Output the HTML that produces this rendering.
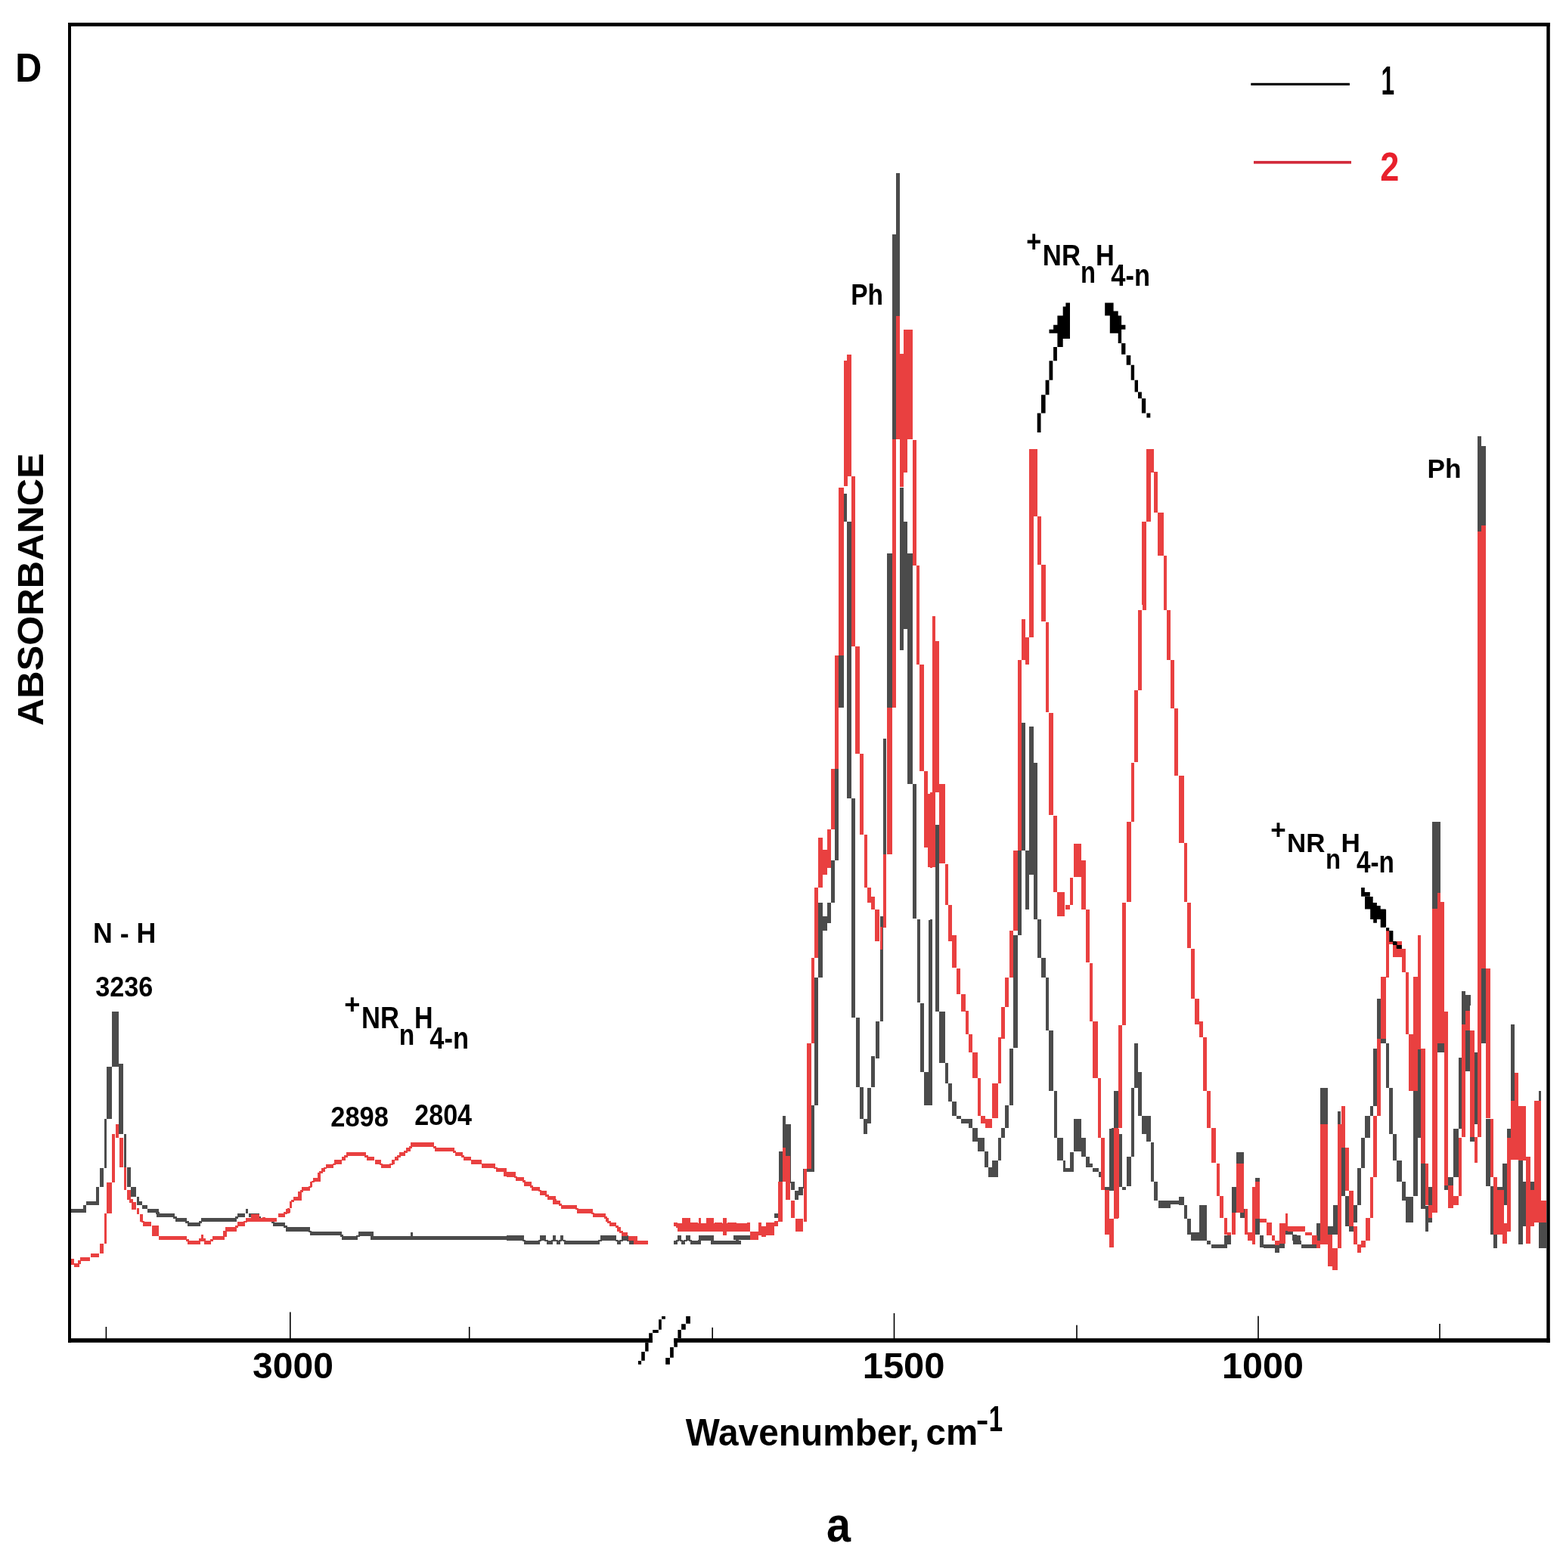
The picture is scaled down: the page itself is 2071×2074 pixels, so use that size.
<!DOCTYPE html>
<html><head><meta charset="utf-8"><title>IR spectrum</title><style>html,body{margin:0;padding:0;background:#fff;overflow:hidden;}svg{display:block;}</style></head><body>
<svg width="2071" height="2074" viewBox="0 0 2071 2074">
<rect width="2071" height="2074" fill="#fff"/>
<path fill="#4b4b4b" shape-rendering="crispEdges" d="M90 1599H110V1604H90zM110 1594H114V1604H110zM114 1589H127V1594H114zM127 1570H131V1594H127zM132 1545H137V1570H132zM137.6 1480H141V1545H137.6zM141 1411H148V1480H141zM148.4 1338H156.7V1411H148.4zM157.3 1406.6H163V1500H157.3zM163.5 1500H167V1544H163.5zM167.6 1544H173V1570H167.6zM173.4 1570H180V1583H173.4zM180.5 1583H184V1594H180.5zM184 1589H188V1594H184zM188 1594H195V1599H188zM195 1599H210V1604H195zM207 1605H231V1610H207zM232 1611H247V1616H232zM248 1617H264.5V1622H248zM265.6 1611H312.6V1616H265.6zM313.6 1605H324V1610H313.6zM325 1599H328V1605H325zM329 1605H342.6V1610H329zM343.6 1611H361V1616H343.6zM361 1617H376.8V1622H361zM377.8 1623H409.5V1629H377.8zM410 1629.2H451.5V1634.3H410zM452 1635H473V1640H452zM474 1629.4H494V1634.6H474zM490 1635H680V1640H490zM543 1630H545.5V1635H543zM670 1634.3H692.5V1640.5H670zM693.3 1640.7H713.5V1645.8H693.3zM714.3 1634.3H722.1V1640.5H714.3zM722.9 1640.7H730.6V1645.8H722.9zM731.4 1634.3H735.3V1640.5H731.4zM736 1640.7H740.8V1645.8H736zM740.8 1634.3H745.4V1640.5H740.8zM746 1640.7H792.9V1645.8H746zM793.6 1634.3H815.4V1640.5H793.6zM816 1640.7H821V1645.8H816zM821.6 1634.3H831V1640.5H821.6zM831.7 1640.7H857V1645.8H831.7zM890.8 1640.7H895.5V1645.8H890.8zM896 1634.3H900.5V1640.5H896zM901 1640.7H906V1645.8H901zM907 1634.3H912.6V1640.5H907zM913.4 1640.7H926.6V1645.8H913.4zM923.5 1634.3H943.7V1640.5H923.5zM940 1640.7H970V1645.8H940zM960 1640.8H980V1645.9H960zM970 1634H992V1640H970zM1023.8 1605H1029V1610.7H1023.8zM1030 1523H1034.6V1610.7H1030zM1035 1476H1038.5V1523H1035zM1038.5 1487H1045.5V1565H1038.5zM1046 1563H1051V1574H1046zM1051.4 1575H1055.6V1587.4H1051.4zM1056 1570H1062V1581H1056zM1062 1546H1067V1572H1062zM1067.3 1545H1072.8V1550H1067.3zM1073 1462H1077V1550H1073zM1077 1293H1082V1462H1077zM1082 1193.6H1087.7V1293H1082zM1087.7 1212H1093.5V1231H1087.7zM1093.5 1193.6H1098.7V1220.5H1093.5zM1099 1137.7H1103.9V1193.6H1099zM1104.3 935H1109.3V1137.7H1104.3zM1109.3 867H1115.5V936.4H1109.3zM1115.5 652.8H1119.7V690H1115.5zM1119.7 690H1126V1056H1119.7zM1126.2 1056H1131.4V1345.7H1126.2zM1131.8 1345.7H1137V1438H1131.8zM1137 1438H1142V1480H1137zM1142 1480H1146.6V1499.5H1142zM1146.6 1439H1152V1486H1146.6zM1152 1397H1157V1438H1152zM1157.7 1351H1162.9V1400H1157.7zM1163.5 1212H1167.6V1351H1163.5zM1168 977H1172.4V1212H1168zM1172.5 731.5H1179.7V977H1172.5zM1180.2 309.7H1185.2V731.5H1180.2zM1185.3 229H1190V581H1185.3zM1190 644.5H1194.8V859.8H1190zM1194.8 690H1199.8V831.9H1194.8zM1199.8 731.5H1206.6V1037H1199.8zM1207 1037H1212V1215H1207zM1212.6 1216H1216.7V1326H1212.6zM1216.7 1327H1222V1418H1216.7zM1222 1418H1233V1462H1222zM1227.5 1216.5H1233V1462H1227.5zM1236.5 1091H1242V1338H1236.5zM206.3 1603H210.7V1606H206.3zM229.3 1609H233.7V1612H229.3zM245.3 1615H249.7V1618H245.3zM262.9 1615H267.2V1618H262.9zM310.9 1609H315.3V1612H310.9zM340.9 1609H345.3V1612H340.9zM358.8 1615H363.2V1618H358.8zM375.1 1621H379.5V1624H375.1zM407.6 1628H411.9V1630.2H407.6zM449.6 1633.3H453.9V1636H449.6zM471.3 1633.6H475.7V1636H471.3zM489.8 1633.6H494.2V1636H489.8zM690.7 1639.5H695.1V1641.7H690.7zM711.7 1639.5H716.1V1641.7H711.7zM720.3 1639.5H724.7V1641.7H720.3zM728.8 1639.5H733.2V1641.7H728.8zM733.4 1639.5H737.9V1641.7H733.4zM738.6 1639.5H743V1641.7H738.6zM743.5 1639.5H747.9V1641.7H743.5zM791 1639.5H795.5V1641.7H791zM813.5 1639.5H817.9V1641.7H813.5zM819.1 1639.5H823.5V1641.7H819.1zM829.1 1639.5H833.6V1641.7H829.1zM893.5 1639.5H898V1641.7H893.5zM898.5 1639.5H903V1641.7H898.5zM904.3 1639.5H908.7V1641.7H904.3zM910.8 1639.5H915.2V1641.7H910.8zM922.8 1639.5H927.2V1641.7H922.8zM939.6 1639.5H944.1V1641.7H939.6zM972.8 1639H977.2V1641.8H972.8zM1351.1 955.8H1355.7V980H1351.1zM1361.1 961H1366.6V980H1361.1zM1237.2 1090.8H1241.8V1337.1H1237.2zM1230 1216H1233.1V1380H1230zM1241.8 1338.2H1249.7V1380H1241.8zM1351.1 980H1355.7V1124.9H1351.1zM1345.9 1124.9H1351.1V1236.7H1345.9zM1340.4 1236.7H1345.9V1380H1340.4zM1361.1 980H1366.6V1009H1361.1zM1361.1 1009H1371.8V1157H1361.1zM1356.3 1124.9H1361.1V1202.6H1356.3zM1366.6 1157H1371.8V1216H1366.6zM1371.8 1216H1377V1266.7H1371.8zM1377.4 1266.7H1383.2V1292.6H1377.4zM1383.2 1292.6H1386.9V1363H1383.2zM1387.3 1363H1392.5V1380H1387.3zM1230 1330H1233.1V1461.5H1230zM1237.2 1330H1241.8V1338.3H1237.2zM1241.8 1338.3H1249.7V1405.6H1241.8zM1249.7 1405.6H1253.8V1432.5H1249.7zM1254.4 1432.5H1259V1456.7H1254.4zM1259 1456.7H1264.8V1476H1259zM1264.8 1476H1271V1480.1H1264.8zM1271 1480.1H1285.5V1486.3H1271zM1280.7 1480.1H1285.9V1491.5H1280.7zM1286.3 1491.5H1293.1V1510.1H1286.3zM1293.1 1504.9H1302V1522.5H1293.1zM1302 1522.5H1306.6V1544.3H1302zM1307 1544.3H1320.1V1556.7H1307zM1312.4 1535H1320.1V1556.7H1312.4zM1320.1 1504.9H1324.2V1535H1320.1zM1324.2 1491.5H1329V1504.9H1324.2zM1329 1461.5H1334.1V1491.5H1329zM1334.6 1386.9H1339.7V1461.5H1334.6zM1340.4 1330H1345.9V1385.9H1340.4zM1383.2 1330H1387.3V1362.1H1383.2zM1387.3 1363.1H1393.1V1442.8H1387.3zM1393.6 1442.8H1398.1V1504.9H1393.6zM1398.1 1504.9H1406V1535H1398.1zM1406 1535H1409.1V1549.5H1406zM1409.1 1545.3H1419.4V1549.5H1409.1zM1414.9 1523.6H1420.1V1549.5H1414.9zM1420.1 1480.1H1429.8V1522.5H1420.1zM1429.8 1504.9H1436V1529.8H1429.8zM1436 1529.8H1441.2V1544.3H1436zM1441.2 1539.1H1445.3V1544.3H1441.2zM1445.3 1545.3H1452.6V1549.5H1445.3zM1452.6 1549.5H1456.1V1556.7H1452.6zM1456.1 1556.7H1460.8V1572.2H1456.1zM1460.8 1570.2H1473.3V1574.7H1460.8zM1467.1 1492.5H1473.3V1574.7H1467.1zM1473.3 1442.8H1480.1V1491.5H1473.3zM1473.1 1442.8H1479.3V1491.5H1473.1zM1470 1491.5H1473.1V1574.3H1470zM1479.3 1499.8H1483.5V1570.2H1479.3zM1483.5 1570.2H1489V1574.3H1483.5zM1489.7 1529.8H1495.9V1569.1H1489.7zM1496.3 1438.7H1500V1529.8H1496.3zM1500.2 1379.7H1504.8V1438.7H1500.2zM1504.8 1418H1509.8V1476H1504.8zM1510.4 1476H1521.8V1499.8H1510.4zM1516 1499.8H1521.8V1510.1H1516zM1522.2 1511.2H1525.9V1562.9H1522.2zM1526.3 1562.9H1531.1V1587.8H1526.3zM1531.5 1587.8H1547.6V1598.1H1531.5zM1548.3 1587.8H1565.7V1592.9H1548.3zM1559 1582.6H1565.7V1594H1559zM1565.7 1594H1570.4V1611.6H1565.7zM1570.4 1611.6H1574.6V1633.3H1570.4zM1575.2 1630.2H1585.9V1640.6H1575.2zM1585.9 1594H1595.9V1640.6H1585.9zM1596.3 1640.6H1600.8V1645.7H1596.3zM1601.5 1645.7H1623.2V1650.5H1601.5zM1618.7 1634.3H1628.4V1645.7H1618.7zM1629.4 1570.2H1634.6V1604.3H1629.4zM1634.6 1523.6H1644.9V1539.1H1634.6zM1639.8 1599.2H1645.6V1610.5H1639.8zM1650.1 1630.2H1656.3V1634.3H1650.1zM1656.3 1570.2H1660.1V1587.8H1656.3zM1660.1 1557.7H1665.7V1562.9H1660.1zM1660.1 1611.6H1665.7V1633.3H1660.1zM1666.3 1634.3H1670.8V1649.9H1666.3zM1670.8 1645.7H1686.4V1650.5H1670.8zM1686.4 1645.7H1691.5V1657.1H1686.4zM1691.5 1640.6H1698.8V1650.5H1691.5zM1699.8 1628.1H1710.2V1633.3H1699.8zM1710.2 1634.3H1720.1V1645.7H1710.2zM1700 1628.1H1709.3V1633.3H1700zM1709.3 1633.3H1714.5V1640.6H1709.3zM1714.5 1640.6H1720.7V1645.7H1714.5zM1720.7 1645.7H1741.4V1650.5H1720.7zM1741.4 1617.8H1746V1645.7H1741.4zM1746 1438.7H1755.5V1491.5H1746zM1755.5 1621.9H1764.2V1633.3H1755.5zM1763.1 1594H1768.7V1633.3H1763.1zM1768.7 1469.8H1772.9V1487.3H1768.7zM1773.5 1518.4H1778.7V1581.6H1773.5zM1778.7 1581.6H1783.9V1621.9H1778.7zM1783.9 1621.9H1790.1V1629.2H1783.9zM1790.1 1594H1795.2V1616.7H1790.1zM1795.2 1545.3H1800.4V1594H1795.2zM1800.4 1504.9H1805.2V1545.3H1800.4zM1805.2 1476H1811.8V1504.9H1805.2zM1811.8 1462.5H1815.9V1476H1811.8zM1815.9 1386.9H1821.1V1462.5H1815.9zM1821.1 1330H1825.7V1373.5H1821.1zM1825.7 1372.4H1830V1379.7H1825.7zM1894.2 1087.3H1905V1202.3H1894.2zM1905 1194H1910.1V1219.9H1905zM1821.1 1321.3H1826.3V1330H1821.1zM1932.9 1311H1938.1V1330H1932.9zM1938.1 1316.1H1945.3V1330H1938.1zM1954.2 576.6H1959.4V702.9H1954.2zM1959.4 590H1965V695.6H1959.4zM1894.2 1087.3H1904.5V1202.2H1894.2zM1904.5 1194H1909.7V1220.9H1904.5zM1933.1 1310.9H1937.7V1360H1933.1zM1937.7 1316.1H1944.3V1338.9H1937.7zM1958.8 1280.9H1965V1360H1958.8zM1998.1 1355.4H2002.9V1360H1998.1zM1830 1373.5H1833.1V1379.7H1830zM1833.1 1379.7H1837.2V1438.7H1833.1zM1837.2 1438.7H1842V1499.8H1837.2zM1842 1499.8H1847V1535H1842zM1847 1535H1853.8V1562.9H1847zM1853.8 1562.9H1859V1587.8H1853.8zM1859 1582.6H1868.9V1616.7H1859zM1868.9 1442.8H1874.5V1581.6H1868.9zM1874.5 1386.9H1879.3V1504.9H1874.5zM1879.3 1539.1H1884.9V1599.2H1879.3zM1884.9 1595H1889V1629.2H1884.9zM1889 1570.2H1894.2V1616.7H1889zM1901.4 1379.7H1909.7V1392.1H1901.4zM1909.7 1556.7H1922.1V1574.3H1909.7zM1922.1 1492.5H1929V1556.7H1922.1zM1929 1399.4H1933.1V1492.5H1929zM1933.1 1330H1944.3V1338.3H1933.1zM1933.1 1338.3H1937.7V1355.9H1933.1zM1937.7 1363.1H1944.3V1417H1937.7zM1944.3 1487.3H1949.7V1510.1H1944.3zM1949.7 1392.1H1954.2V1487.3H1949.7zM1958.8 1330H1965V1379.7H1958.8zM1965 1480.1H1970.8V1569.1H1965zM1970.8 1569.1H1974.9V1633.3H1970.8zM1974.9 1633.3H1979.5V1650.5H1974.9zM1979.5 1570.2H1989.4V1574.3H1979.5zM1987.3 1539.1H1992.5V1594H1987.3zM1992.5 1492.5H1997.7V1504.9H1992.5zM1997.7 1355.9H2002.9V1456.3H1997.7zM2008.1 1535H2014.3V1645.7H2008.1zM2014.3 1562.9H2018.4V1621.9H2014.3zM2023.6 1562.9H2028.8V1574.3H2023.6zM2028.8 1457.3H2035V1468.7H2028.8zM2035 1442.8H2038.1V1457.3H2035zM2035 1616.7H2045.3V1650.5H2035z"/>
<path fill="#e94040" shape-rendering="crispEdges" d="M90 1665H98V1673H90zM98 1671H104.5V1676H98zM105.5 1663H119V1668H105.5zM120 1658H131.4V1663H120zM132.4 1645H136.6V1658H132.4zM137.6 1605H140.7V1645H137.6zM141.3 1564H147.6V1605H141.3zM148.4 1500H152.1V1564H148.4zM153 1487H157.3V1505H153zM157.7 1505H163V1544H157.7zM163.5 1544H167V1574H163.5zM167.6 1574H172.8V1587H167.6zM173.8 1590H180V1600H173.8zM181 1598H184V1606H181zM184.8 1606H189V1616H184.8zM189.4 1616.4H199.7V1621.6H189.4zM200.8 1621H209.7V1635H200.8zM210 1635H247.4V1640H210zM248.4 1641.2H265V1646.3H248.4zM265.6 1633.4H269V1638.6H265.6zM270 1641.2H279.4V1646.3H270zM280.5 1635H297V1640H280.5zM298 1623.4H312.6V1628.6H298zM313.6 1616.4H324V1621.6H313.6zM325 1611.2H365.5V1616.3H325zM332 1606H342.6V1611H332zM367.5 1605.2H376.8V1610.3H367.5zM377.8 1598.7H384V1603.8H377.8zM380 1598H383V1605H380zM383 1589H386V1598H383zM387.8 1582.7H399V1587.8H387.8zM394 1575.7H399V1583H394zM399.4 1570.2H409.5V1575.3H399.4zM410 1563H413.4V1569.5H410zM414 1557.7H424.3V1562.8H414zM420.4 1551H424.3V1558H420.4zM425 1545.1H429.8V1550.3H425zM430.5 1539.7H441.4V1544.9H430.5zM442.2 1534.3H451.5V1539.5H442.2zM452.3 1530H457V1535.1H452.3zM457.8 1523.6H484.2V1529H457.8zM485 1529.7H495V1534.8H485zM495.9 1534.3H503.6V1539.5H495.9zM504.4 1539.6H516.9V1544.8H504.4zM517.6 1534.3H521.5V1539.5H517.6zM522.3 1530H527V1535.1H522.3zM527.7 1523.6H536.3V1529H527.7zM537 1518.1H542.5V1523.3H537zM543.3 1511.2H574.4V1517.4H543.3zM575.2 1518.1H600.8V1523.3H575.2zM601.6 1523.6H611.7V1529H601.6zM612.5 1529.7H622.6V1534.8H612.5zM623.4 1534.3H636.6V1539.5H623.4zM637.4 1539H655.3V1544.6H637.4zM656 1544.8H670V1549.9H656zM666 1550H680V1556H666zM670 1550.3H681.7V1556.5H670zM682.4 1557.1H692.5V1562.2H682.4zM693.3 1563.2H702.7V1569.4H693.3zM703.4 1569.9H713.5V1575H703.4zM714.3 1575.2H722.9V1581.4H714.3zM723.7 1582H735.3V1587.2H723.7zM731.4 1587.6H740.8V1593H731.4zM741.5 1594H762.5V1599.1H741.5zM763.3 1599.3H783.5V1604.7H763.3zM784.3 1605.2H800.6V1610.4H784.3zM801.4 1611H805.3V1616.4H801.4zM806 1617H815.4V1622.2H806zM816.2 1622.6H820.9V1628.8H816.2zM821.6 1630.1H830.2V1635.3H821.6zM831 1635H843.4V1640.5H831zM838 1640.7H857.4V1645.8H838zM890.8 1617H895.5V1622H890.8zM896.3 1622.6H901V1629H896.3zM901.7 1611H912.6V1621H901.7zM913.4 1617H922.7V1629H913.4zM923.5 1611H926.6V1629H923.5zM927.4 1622H933.6V1629H927.4zM934.4 1611H943.7V1629H934.4zM944.5 1617H955V1629H944.5zM955.5 1611H961V1633.5H955.5zM961.6 1617H974V1629H961.6zM974 1622H988V1628.6H974zM988 1617H992V1628.6H988zM992 1628.6H1002.8V1640H992zM1002.8 1617H1006.7V1634H1002.8zM1006.7 1622H1012.9V1636H1006.7zM1012.9 1617H1023.8V1634H1012.9zM896 1618H990V1629H896zM1023.8 1614.6H1029V1621.6H1023.8zM1029 1563.3H1034.6V1616H1029zM1035 1518H1039.3V1563H1035zM1039.3 1529H1045.2V1587.4H1039.3zM1046.3 1588H1051V1610.7H1046.3zM1051.8 1611.5H1061.9V1629.4H1051.8zM1062.6 1546H1066.5V1616H1062.6zM1067.3 1380H1072.8V1546H1067.3zM1073.4 1267H1077V1380H1073.4zM1077.4 1174H1082V1267H1077.4zM1082 1107.7H1087.7V1174H1082zM1087.7 1124H1093.5V1157H1087.7zM1094 1097H1098.7V1148H1094zM1099 1016.6H1103.9V1097H1099zM1104.1 867H1109.3V1016.6H1104.1zM1109.3 644.5H1115.5V867H1109.3zM1116 476.6H1120.6V643H1116zM1120.3 469.4H1126V630H1120.3zM1126 630H1131V854.7H1126zM1131 854.7H1136.9V996.5H1131zM1137 996.5H1142.2V1103.5H1137zM1142.6 1103.5H1146.7V1174H1142.6zM1147.3 1174H1152V1193.6H1147.3zM1152 1186H1156.7V1203H1152zM1157.3 1203H1162.9V1245H1157.3zM1163.5 1225.7H1167V1255.7H1163.5zM1168 1130.4H1172.2V1226.7H1168zM1172.5 936.4H1179.7V1130.4H1172.5zM1180.4 581H1185V936.4H1180.4zM1185 417.6H1190V581H1185zM1190 468H1195.3V644H1190zM1195.3 436H1206.7V581H1195.3zM1190 581H1200V624.6H1190zM1207 582H1212V748H1207zM1212 748H1216V878.5H1212zM1216 878.5H1221.7V1020H1216zM1222.3 1019.7H1227V1121H1222.3zM1227 1050H1232.7V1147H1227zM1233 815H1237V1147H1233zM1237 848.4H1242.4V1037.6H1237zM102.8 1667H107.2V1672H102.8zM171.1 1586H175.5V1591H171.1zM187 1615H191.4V1617.4H187zM245.7 1639H250.1V1642.2H245.7zM263.1 1637.6H267.5V1642.2H263.1zM267.3 1637.6H271.7V1642.2H267.3zM277.8 1639H282.1V1642.2H277.8zM295.3 1627.6H299.7V1636H295.3zM310.9 1620.6H315.3V1624.4H310.9zM322.3 1615.3H326.7V1617.4H322.3zM346.6 1610H350.9V1612.2H346.6zM375.1 1602.8H379.5V1606.2H375.1zM384.7 1586.8H389.1V1590H384.7zM397 1574.3H401.4V1576.7H397zM407.6 1568.5H411.9V1571.2H407.6zM411.5 1561.8H415.9V1564H411.5zM422.4 1549.3H426.8V1552H422.4zM427.9 1543.9H432.3V1546.1H427.9zM439.6 1538.5H444V1540.7H439.6zM455.2 1528H459.6V1531H455.2zM482.4 1528H486.8V1530.7H482.4zM501.8 1538.5H506.2V1540.6H501.8zM515 1538.5H519.5V1540.6H515zM525.1 1528H529.6V1531H525.1zM534.4 1522.3H538.9V1524.6H534.4zM540.7 1516.4H545.1V1519.1H540.7zM572.6 1516.4H577V1519.1H572.6zM599 1522.3H603.4V1524.6H599zM609.9 1528H614.3V1530.7H609.9zM653.4 1543.6H657.9V1545.8H653.4zM665.8 1548.9H670.2V1551H665.8zM679.8 1555.5H684.2V1558.1H679.8zM690.7 1561.2H695.1V1564.2H690.7zM700.8 1568.4H705.2V1570.9H700.8zM711.7 1574H716.1V1576.2H711.7zM721.1 1580.4H725.5V1583H721.1zM731.1 1586.2H735.5V1588.6H731.1zM738.9 1592H743.4V1595H738.9zM760.7 1598.1H765.1V1600.3H760.7zM781.7 1603.7H786.1V1606.2H781.7zM798.8 1609.4H803.2V1612H798.8zM803.4 1615.4H807.9V1618H803.4zM813.6 1621.2H818V1623.6H813.6zM819 1627.8H823.5V1631.1H819zM838.5 1639.5H842.9V1641.7H838.5zM893.7 1621H898.1V1623.6H893.7zM899.1 1620H903.6V1623.6H899.1zM1233.1 816H1237.2V849.2H1233.1zM1234.1 849.2H1241.8V980H1234.1zM1361.1 594.1H1371.8V682.5H1361.1zM1361.1 682.5H1366.6V842.5H1361.1zM1372.2 683.1H1377V747.3H1372.2zM1377.4 748.1H1382.8V822.2H1377.4zM1383.2 823.3H1386.7V942.3H1383.2zM1387.3 942.7H1392.5V980H1387.3zM1351.1 819.1H1355.7V873H1351.1zM1355.7 842.9H1360.8V878.6H1355.7zM1346.4 873H1350.7V980H1346.4zM1233.1 980H1241.8V1048.3H1233.1zM1230 1048.3H1233.1V1147.7H1230zM1241.8 1036.9H1250.1V1141.5H1241.8zM1250.1 1142.5H1253.8V1197.4H1250.1zM1254.4 1197.4H1259V1245H1254.4zM1259 1236.7H1264.8V1280.2H1259zM1265.2 1281.2H1270.4V1315.4H1265.2zM1271 1315.4H1276.6V1338.2H1271zM1277.2 1338.2H1280.7V1368.2H1277.2zM1281.3 1368.2H1285.9V1380H1281.3zM1345.9 980H1351.1V1124.9H1345.9zM1340.4 1124.9H1345.9V1230.5H1340.4zM1334.6 1230.5H1340.4V1292.6H1334.6zM1329 1292.6H1334.1V1332H1329zM1324.2 1332H1329V1372.3H1324.2zM1320.1 1372.3H1324.2V1380H1320.1zM1387.3 980H1392.5V1078.3H1387.3zM1393.1 1079.4H1397.7V1179.8H1393.1zM1398.1 1179.8H1408.1V1211.9H1398.1zM1408.5 1197.4H1414.7V1202.6H1408.5zM1414.9 1161.2H1419.4V1197.4H1414.9zM1420.1 1115.6H1429.8V1160.1H1420.1zM1429.8 1138.4H1436V1202.6H1429.8zM1436 1202.6H1441.2V1273H1436zM1441.2 1274H1445.3V1350.6H1441.2zM1445.3 1350.6H1451.9V1380H1445.3zM1271.4 1330H1276.6V1337.2H1271.4zM1277.2 1337.2H1280.7V1368.3H1277.2zM1281.3 1368.3H1285.9V1392.1H1281.3zM1286.3 1392.1H1293.1V1426.3H1286.3zM1293.1 1426.3H1297.3V1476H1293.1zM1297.3 1476H1302.5V1486.3H1297.3zM1302.5 1480.1H1311.8V1491.5H1302.5zM1312.4 1433.1H1320.1V1479.1H1312.4zM1320.1 1373.5H1324.2V1432.5H1320.1zM1324.2 1332.1H1329V1373.5H1324.2zM1329 1330H1334.1V1332.1H1329zM1441.2 1330H1445.3V1350.7H1441.2zM1445.3 1350.7H1451.9V1426.3H1445.3zM1451.9 1426.3H1456.1V1504.9H1451.9zM1456.1 1504.9H1460.8V1574.3H1456.1zM1460.8 1574.3H1467.1V1633.3H1460.8zM1467.1 1611.6H1473.3V1649.9H1467.1zM1473.3 1492.5H1479.5V1610.5H1473.3zM1361.4 594.7H1371.2V682.8H1361.4zM1361.4 682.8H1366.8V800.1H1361.4zM1371.7 682.8H1376.5V747.3H1371.7zM1377 747.3H1382.6V800.1H1377zM1516.4 594.7H1525.4V624.4H1516.4zM1516.4 624.4H1522V688.9H1516.4zM1526.2 624.4H1531V677.9H1526.2zM1531 677.9H1539.1V735.1H1531zM1539.1 735.1H1542V800.1H1539.1zM1510.3 690.1H1515.2V800.1H1510.3zM1516 594.1H1525.9V624.5H1516zM1516 624.5H1521.8V689.7H1516zM1526.3 624.5H1530.7V677.7H1526.3zM1510.6 689.7H1515.5V806.7H1510.6zM1531.3 678.3H1538.7V734.9H1531.3zM1538.9 734.9H1542.9V806.7H1538.9zM1505.2 806.7H1509.8V913.3H1505.2zM1543.1 806.7H1547.8V873H1543.1zM1548.3 873H1552.8V937.1H1548.3zM1500.2 913.3H1504.8V980H1500.2zM1553.2 937.1H1558V980H1553.2zM1500.2 980H1504.8V1008H1500.2zM1496.3 1009H1500V1086.6H1496.3zM1489.7 1087.2H1495.9V1193.3H1489.7zM1483.5 1194.3H1488.6V1354.7H1483.5zM1479.3 1355.8H1483.5V1380H1479.3zM1553.2 980H1558V1025.5H1553.2zM1558.6 1026H1565.7V1114.6H1558.6zM1566.3 1115H1569.8V1193.3H1566.3zM1570.4 1194.3H1574.6V1254.3H1570.4zM1575.2 1255.4H1579.7V1320.6H1575.2zM1580.4 1321.2H1585.5V1354.7H1580.4zM1585.5 1351.6H1590.5V1372.3H1585.5zM1591.1 1372.3H1595.7V1380H1591.1zM1483.5 1330H1488.6V1355.9H1483.5zM1479.3 1355.9H1483.5V1491.5H1479.3zM1473.1 1491.5H1479.3V1611.6H1473.1zM1470 1611.6H1473.1V1649.9H1470zM1580.4 1330H1585.5V1354.8H1580.4zM1585.9 1350.7H1590.5V1372.4H1585.9zM1591.1 1372.4H1595.7V1442.8H1591.1zM1596.3 1442.8H1600.8V1491.5H1596.3zM1601.5 1491.5H1608.3V1538.1H1601.5zM1609.1 1539.1H1612.9V1581.6H1609.1zM1613.3 1581.6H1618V1611.2H1613.3zM1618.7 1611.2H1623.2V1633.3H1618.7zM1623.2 1630.2H1628.4V1634.3H1623.2zM1629.4 1604.3H1633.6V1633.3H1629.4zM1634.6 1539.1H1644.9V1604.3H1634.6zM1645.6 1599.2H1649.7V1633.3H1645.6zM1650.1 1630.2H1656.3V1640.6H1650.1zM1656.3 1570.2H1660.1V1645.7H1656.3zM1660.1 1562.9H1665.7V1611.6H1660.1zM1665.7 1611.6H1675V1616.7H1665.7zM1675 1616.7H1681.6V1634.3H1675zM1681.6 1634.3H1686.4V1640.6H1681.6zM1686.4 1640.6H1691.5V1646.8H1686.4zM1691.5 1617.8H1699.8V1644.7H1691.5zM1699.8 1605.4H1702.9V1628.1H1699.8zM1702.9 1621.9H1720.1V1629.2H1702.9zM1700 1605.4H1703.1V1628.1H1700zM1703.1 1621.9H1725.9V1629.2H1703.1zM1725.9 1630.2H1735.2V1634.3H1725.9zM1735.2 1634.3H1742.4V1645.7H1735.2zM1741.4 1640.6H1746V1650.5H1741.4zM1746 1487.3H1755.5V1645.7H1746zM1755.5 1633.3H1762.1V1674.7H1755.5zM1762.1 1650.9H1768.7V1679.9H1762.1zM1768.7 1487.3H1773.5V1650.9H1768.7zM1773.5 1462.5H1778.7V1518.4H1773.5zM1778.7 1518.4H1783.9V1575.3H1778.7zM1783.9 1575.3H1790.1V1621.9H1783.9zM1790.1 1621.9H1795.2V1645.7H1790.1zM1795.2 1645.7H1800.4V1657.1H1795.2zM1800.4 1640.6H1805.6V1649.9H1800.4zM1805.6 1610.5H1811.8V1640.6H1805.6zM1811.8 1556.7H1815.9V1610.5H1811.8zM1815.9 1476H1821.1V1556.7H1815.9zM1821.1 1373.5H1825.7V1476H1821.1zM1825.7 1330H1830V1373.5H1825.7zM1826.3 1292.3H1832.5V1330H1826.3zM1832.5 1230.2H1837.1V1292.3H1832.5zM1837.1 1244.7H1842.9V1248.8H1837.1zM1842.4 1248.8H1847.4V1265.4H1842.4zM1847.4 1244.7H1853.6V1263.3H1847.4zM1853.6 1255.1H1859V1286.1H1853.6zM1859 1286.1H1862.5V1330H1859zM1869.4 1292.3H1875.6V1330H1869.4zM1875.6 1237.5H1879.1V1330H1875.6zM1894.2 1202.3H1905V1330H1894.2zM1900.8 1180.5H1905V1202.3H1900.8zM1905 1192.9H1910.1V1330H1905zM1954.2 702.9H1959.4V960H1954.2zM1959.4 694.6H1965V960H1959.4zM1954.2 960H1965V1280.9H1954.2zM1954.2 1280.9H1958.8V1360H1954.2zM1965 1280.9H1970.8V1360H1965zM1894.2 1202.2H1904.5V1360H1894.2zM1901.4 1180.5H1904.5V1202.2H1901.4zM1904.5 1220.9H1909.7V1360H1904.5zM1909.7 1337.8H1914.9V1360H1909.7zM1869.3 1293.3H1878.7V1360H1869.3zM1875.1 1237.4H1878.7V1293.3H1875.1zM1859 1286.1H1862.7V1360H1859zM1853.8 1255H1859V1286.1H1853.8zM1842.4 1245.7H1853.8V1266.4H1842.4zM1833.1 1229.2H1837.2V1293.3H1833.1zM1830 1293.3H1833.1V1360H1830zM1933.1 1355.4H1937.7V1360H1933.1zM1937.7 1336.8H1944.3V1360H1937.7zM1830 1330H1833.1V1373.5H1830zM1859 1330H1863.1V1368.3H1859zM1863.1 1368.3H1875.1V1442.8H1863.1zM1869.3 1330H1878.7V1388H1869.3zM1879.3 1386.9H1884.9V1539.1H1879.3zM1884.9 1539.1H1889V1594H1884.9zM1889 1594H1894.2V1610.5H1889zM1894.2 1330H1901.4V1604.3H1894.2zM1901.4 1330H1909.7V1379.7H1901.4zM1909.7 1338.3H1914.9V1568.1H1909.7zM1914.9 1568.1H1922.1V1598.1H1914.9zM1922.1 1581.6H1929V1594H1922.1zM1929 1504.9H1933.1V1581.6H1929zM1933.1 1355.9H1937.7V1503.9H1933.1zM1937.7 1338.3H1944.3V1363.1H1937.7zM1944.3 1363.1H1949.7V1503.9H1944.3zM1949.7 1503.9H1954.2V1538.1H1949.7zM1954.2 1330H1958.8V1503.9H1954.2zM1965 1330H1970.8V1479.1H1965zM1970.8 1480.1H1974.9V1556.7H1970.8zM1974.9 1556.7H1979.5V1633.3H1974.9zM1979.5 1574.3H1989.4V1633.3H1979.5zM1987.3 1617.8H1992.5V1644.7H1987.3zM1992.5 1504.9H1997.7V1629.2H1992.5zM1997.7 1456.3H2008.1V1533.9H1997.7zM2002.9 1419H2008.1V1456.3H2002.9zM2008.1 1462.5H2018.4V1535H2008.1zM2014.3 1470.8H2018.4V1529.8H2014.3zM2018.4 1529.8H2023.6V1644.7H2018.4zM2023.6 1574.3H2028.8V1621.9H2023.6zM2028.8 1456.3H2038.1V1616.7H2028.8zM2038.1 1587.8H2045.3V1616.7H2038.1z"/>
<path fill="#000" d="M1371.7 546.5H1376.5V572.1H1371.7zM1377 522.2H1382.6V546.5H1377zM1382.6 502.7H1387.5V522.2H1382.6zM1387.5 477.2H1392.3V502.7H1387.5zM1393.1 459H1397.9V477.2H1393.1zM1398.4 446.8H1405.7V459H1398.4zM1398.4 417.6H1415V448H1398.4zM1387.5 435.8H1398.4V440.7H1387.5zM1393.1 429.8H1398.4V435.8H1393.1zM1405.7 405.4H1415V417.6H1405.7zM1409.4 400.6H1415V405.4H1409.4zM1461.2 400.6H1472.6V417.6H1461.2zM1467.8 411.5H1478.7V440.7H1467.8zM1478.7 417.6H1483.1V440.7H1478.7zM1483.1 429.8H1488.4V435.8H1483.1zM1478.7 440.7H1483.1V454.1H1478.7zM1483.1 454.1H1488.4V468.7H1483.1zM1489.7 469.9H1495.3V482.8H1489.7zM1495.7 482.8H1500.1V502.7H1495.7zM1500.6 502.7H1505V518.6H1500.6zM1505 518.6H1509.9V527.1H1505zM1509.9 527.1H1515.2V546.5H1509.9zM1516.4 546.5H1521.3V552.6H1516.4zM1800.1 1174H1804.8V1185.8H1800.1zM1804.8 1180H1811.8V1185.8H1804.8zM1805 1186.1H1815.7V1202.6H1805zM1815.7 1194H1820.9V1202.6H1815.7zM1820.9 1197.9H1825.7V1202.6H1820.9zM1812.2 1202.6H1832.7V1215.9H1812.2zM1825.7 1203.1H1832.7V1226.8H1825.7zM1816.2 1215.9H1820.9V1220.8H1816.2zM1833.2 1227.1H1836.9V1231H1833.2zM1837.2 1231H1841.8V1245H1837.2zM1842 1245H1846.7V1250.1H1842zM1846.7 1250.1H1853.7V1254.8H1846.7zM1830 1203.3H1833.1V1226H1830zM1833.1 1227.1H1837.2V1231.2H1833.1zM1837.2 1231.2H1842.4V1245.7H1837.2zM1842.4 1245.7H1847.6V1249.9H1842.4zM1847.6 1249.9H1853.8V1255H1847.6z"/>
<g fill="#000">
<rect x="90" y="30" width="1960" height="4.8"/>
<rect x="90" y="30" width="4" height="1746"/>
<rect x="2045.3" y="30" width="4.5" height="1746"/>
<rect x="90" y="1770.2" width="773" height="5.6"/>
<rect x="891.3" y="1770.2" width="1158.5" height="5.6"/>
<rect x="139.6" y="1755.0" width="1.6" height="17.0"/>
<rect x="383.0" y="1735.5" width="1.6" height="36.5"/>
<rect x="619.9" y="1755.0" width="1.6" height="17.0"/>
<rect x="941.4" y="1755.9" width="1.6" height="16.1"/>
<rect x="1181.7" y="1737.0" width="1.6" height="35.0"/>
<rect x="1423.2" y="1752.7" width="1.6" height="19.3"/>
<rect x="1663.2" y="1740.7" width="1.6" height="31.3"/>
<rect x="1903.2" y="1751.0" width="1.6" height="21.0"/>
<path d="M844 1800.1H848.1V1804.7H844zM848.2 1788.1H852.8V1799.7H848.2zM853.2 1775.8H857.6V1787.6H853.2zM858.2 1763.2H862.9V1775.8H858.2zM863.2 1759.1H870.8V1762.9H863.2zM871.1 1745.2H874.8V1758.8H871.1zM875.1 1741.1H879.9V1744.8H875.1zM880.2 1796H885.9V1804.7H880.2zM886.1 1782H890.8V1795.7H886.1zM891.3 1770.2H895.9V1781.8H891.3zM896.4 1759.1H900.8V1770.2H896.4zM901.1 1751.2H906.8V1758.8H901.1zM907.2 1741.1H912.9V1750.8H907.2z"/>
<rect x="1654.3" y="109.8" width="130.6" height="3.2"/>
</g>
<rect x="1658" y="212.9" width="129" height="3.7" fill="#d22a3a"/>
<g font-family="Liberation Sans, Arial, sans-serif" font-weight="bold" font-size="100">
<text transform="translate(20.30 107.55) scale(0.4852 0.5406)" fill="#000">D</text>
<text transform="translate(1826.60 124.70) scale(0.3170 0.5435)" fill="#000">1</text>
<text transform="translate(1825.15 239.20) scale(0.4510 0.5429)" fill="#e8202c">2</text>
<text transform="translate(1125.15 402.80) scale(0.3357 0.3870)" fill="#000">Ph</text>
<text transform="translate(1887.53 632.00) scale(0.3522 0.3594)" fill="#000">Ph</text>
<text transform="translate(1357.33 333.15) scale(0.3420 0.4059)" fill="#000">+</text>
<text transform="translate(1378.87 350.90) scale(0.3476 0.3826)" fill="#000">NR</text>
<text transform="translate(1429.01 374.20) scale(0.3271 0.4074)" fill="#000">n</text>
<text transform="translate(1449.00 350.90) scale(0.3431 0.3826)" fill="#000">H</text>
<text transform="translate(1469.31 377.70) scale(0.3446 0.4000)" fill="#000">4-n</text>
<text transform="translate(1680.20 1109.59) scale(0.3500 0.3608)" fill="#000">+</text>
<text transform="translate(1702.06 1126.70) scale(0.3491 0.3522)" fill="#000">NR</text>
<text transform="translate(1752.90 1148.70) scale(0.3292 0.3648)" fill="#000">n</text>
<text transform="translate(1773.44 1126.70) scale(0.3517 0.3522)" fill="#000">H</text>
<text transform="translate(1793.93 1153.80) scale(0.3333 0.4029)" fill="#000">4-n</text>
<text transform="translate(455.15 1340.72) scale(0.3620 0.3647)" fill="#000">+</text>
<text transform="translate(477.98 1359.90) scale(0.3454 0.4101)" fill="#000">NR</text>
<text transform="translate(527.85 1381.90) scale(0.3354 0.3833)" fill="#000">n</text>
<text transform="translate(548.02 1359.90) scale(0.3397 0.4101)" fill="#000">H</text>
<text transform="translate(568.31 1386.60) scale(0.3439 0.3986)" fill="#000">4-n</text>
<text transform="translate(122.90 1246.80) scale(0.3574 0.3725)" fill="#000">N - H</text>
<text transform="translate(126.21 1318.23) scale(0.3426 0.3690)" fill="#000">3236</text>
<text transform="translate(437.27 1489.53) scale(0.3445 0.3676)" fill="#000">2898</text>
<text transform="translate(548.18 1487.92) scale(0.3413 0.3789)" fill="#000">2804</text>
<text transform="translate(334.04 1823.23) scale(0.4804 0.4746)" fill="#000">3000</text>
<text transform="translate(1140.66 1823.23) scale(0.4895 0.4746)" fill="#000">1500</text>
<text transform="translate(1616.09 1823.23) scale(0.4843 0.4746)" fill="#000">1000</text>
<text transform="translate(906.70 1912.00) scale(0.4780 0.5043)" fill="#000">Wavenumber,</text>
<text transform="translate(1224.50 1911.00) scale(0.4747 0.4852)" fill="#000">cm</text>
<text transform="translate(1290.78 1891.67) scale(0.5040 0.4083)" fill="#000">-</text>
<text transform="translate(1307.82 1892.70) scale(0.3298 0.4899)" fill="#000">1</text>
<text transform="translate(1093.07 2039.15) scale(0.5755 0.6527)" fill="#000">a</text>
<text transform="translate(57.43 960.11) rotate(-90) scale(0.5037 0.4732)">ABSORBANCE</text>
</g>
</svg>
</body></html>
